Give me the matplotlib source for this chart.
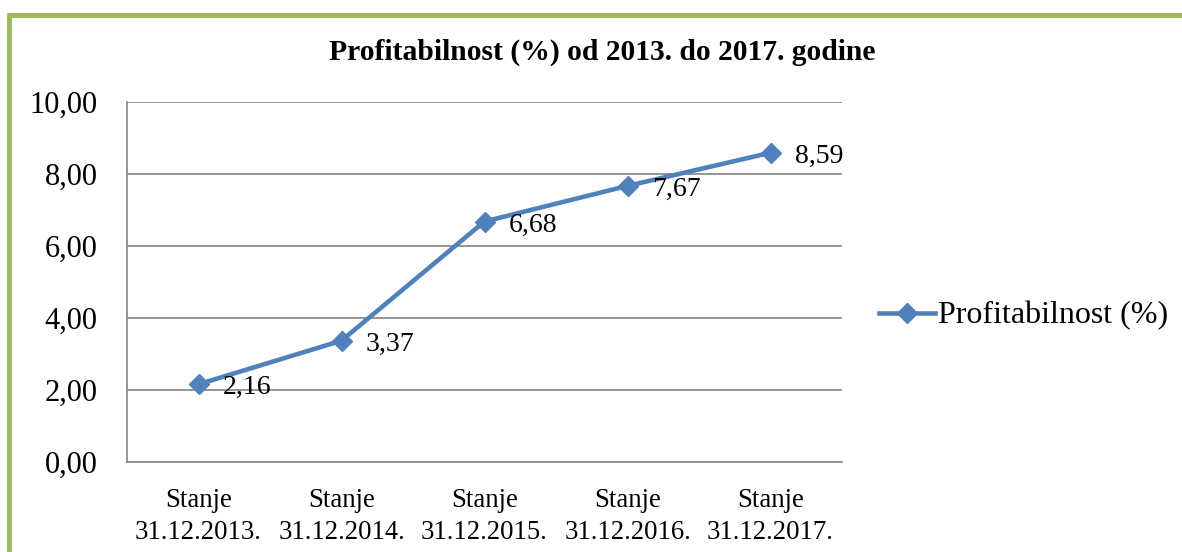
import matplotlib
matplotlib.use('Agg')
import matplotlib.pyplot as plt
from matplotlib.patches import Rectangle

# data
categories = ['Stanje\n31.12.2013.', 'Stanje\n31.12.2014.', 'Stanje\n31.12.2015.',
              'Stanje\n31.12.2016.', 'Stanje\n31.12.2017.']
values = [2.16, 3.37, 6.68, 7.67, 8.59]
series_name = 'Profitabilnost (%)'
title = 'Profitabilnost (%) od 2013. do 2017. godine'

plt.rcParams['font.family'] = ['Liberation Serif', 'DejaVu Serif']

line_color = '#4F81BD'
grid_color = '#8C8C8C'

fig = plt.figure(figsize=(11.82, 5.52), dpi=100)
ax = fig.add_axes([127 / 1182, 1 - 462 / 552, (842 - 127) / 1182, (462 - 102) / 552])

x = list(range(len(values)))
ax.plot(x, values, color=line_color, lw=3.3, marker='D', markersize=10,
        markeredgecolor=line_color, label=series_name, zorder=3)
for xi, v in zip(x, values):
    ax.annotate(f'{v:.2f}'.replace('.', ','), (xi, v), xytext=(17.5, -2.5),
                textcoords='offset points', ha='left', va='center', fontsize=20, zorder=4)

ax.set_xlim(-0.5, len(values) - 0.5)
ax.set_ylim(0, 10)
ax.set_yticks([0, 2, 4, 6, 8, 10])
ax.set_yticklabels([f'{t:.2f}'.replace('.', ',') for t in [0, 2, 4, 6, 8, 10]], fontsize=22)
ax.set_xticks(x)
ax.set_xticklabels(categories, fontsize=19.3, linespacing=1.4)
ax.tick_params(axis='both', length=0)
ax.tick_params(axis='y', pad=21)
ax.tick_params(axis='x', pad=18.5)
ax.grid(axis='y', color=grid_color, lw=1.3)
ax.set_axisbelow(True)
for side in ['top', 'right']:
    ax.spines[side].set_visible(False)
for side in ['left', 'bottom']:
    ax.spines[side].set_color(grid_color)
    ax.spines[side].set_linewidth(1.3)

fig.text(602 / 1182, 1 - 52 / 552, title, ha='center', va='center',
         fontsize=21.3, fontweight='bold')

fig.legend(loc='center left', bbox_to_anchor=(879 / 1182, 1 - 316 / 552), frameon=False,
           fontsize=23, handlelength=1.75, handletextpad=0.1, borderpad=0, borderaxespad=0)

# green frame (top and left edges visible)
fig.add_artist(Rectangle((9 / 1182, -0.05), 1.2, 1 - 14.5 / 552 + 0.05,
                         transform=fig.transFigure, fill=False,
                         edgecolor='#9BBB59', lw=3.5))

fig.savefig('out.png', dpi=100)
